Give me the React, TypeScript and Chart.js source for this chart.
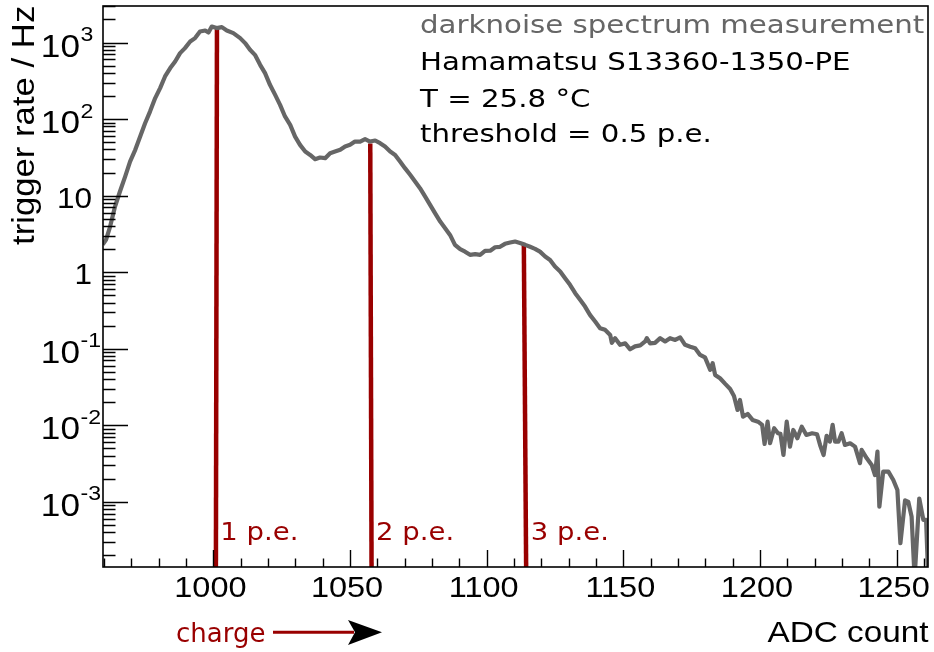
import React, { useEffect, useRef } from "react";
import { Chart, registerables } from "chart.js";

Chart.register(...registerables);

// ---- data ----
const adcCounts = [
  959.5, 960.7, 962.2, 964.0, 965.8, 967.7, 969.5, 971.4, 973.2, 975.0, 976.8, 978.7, 980.5, 982.3, 984.2, 986.0,
  987.8, 989.6, 991.5, 993.3, 995.1, 997.0, 998.2, 999.4, 1001.2, 1003.1, 1004.9, 1007.3, 1009.8, 1011.6, 1013.4,
  1015.2, 1017.1, 1018.9, 1020.7, 1022.6, 1024.4, 1026.2, 1028.1, 1029.9, 1031.7, 1033.6, 1035.4, 1037.2, 1039.0,
  1040.9, 1042.7, 1044.5, 1046.4, 1048.2, 1050.0, 1051.8, 1053.7, 1055.5, 1057.3, 1059.2, 1061.0, 1062.8, 1064.7,
  1066.5, 1068.3, 1070.1, 1072.0, 1073.8, 1075.6, 1077.5, 1079.3, 1081.1, 1083.0, 1084.8, 1086.6, 1088.4, 1090.3,
  1092.1, 1093.9, 1095.8, 1097.6, 1099.4, 1101.3, 1103.1, 1104.9, 1106.7, 1108.6, 1110.4, 1112.2, 1114.1, 1115.9,
  1117.7, 1119.5, 1121.4, 1123.2, 1125.0, 1126.9, 1128.7, 1130.5, 1132.4, 1134.2, 1136.0, 1137.8, 1139.7, 1141.5,
  1143.3, 1145.2, 1145.8, 1147.0, 1148.8, 1150.7, 1152.5, 1154.3, 1156.2, 1158.0, 1158.6, 1159.8, 1161.6, 1163.5,
  1165.3, 1167.1, 1169.0, 1170.8, 1172.6, 1174.5, 1176.3, 1178.1, 1179.9, 1181.8, 1182.7, 1183.6, 1185.4, 1187.3,
  1189.1, 1190.5, 1191.8, 1192.7, 1193.8, 1195.5, 1197.3, 1199.3, 1200.8, 1201.7, 1202.8, 1203.7, 1205.2, 1206.6,
  1207.5, 1208.6, 1209.8, 1211.0, 1212.2, 1213.7, 1215.3, 1217.0, 1219.1, 1220.9, 1222.0, 1223.3, 1224.4, 1225.6,
  1226.6, 1227.5, 1228.7, 1229.9, 1231.1, 1233.0, 1234.8, 1236.6, 1237.2, 1239.1, 1240.9, 1242.1, 1243.0, 1243.7,
  1245.1, 1247.0, 1248.8, 1250.3, 1251.4, 1253.1, 1254.3, 1255.5, 1256.6, 1258.3, 1259.8, 1260.8, 1261.6,
];

const triggerRates = [
  2.3, 2.64, 3.93, 7.18, 11.3, 17.7, 27.8, 39.6, 59, 88, 125, 188, 254, 360, 463, 565,
  727, 845, 1030, 1142, 1393, 1435, 1351, 1618, 1542, 1589, 1435, 1327, 1142, 982, 803,
  690, 511, 398, 280, 207, 153, 108, 84, 59, 46, 37.6, 34.0, 29.9, 31.4,
  30.8, 35.8, 37.6, 39.6, 43.8, 46, 50.8, 50.8, 54.6, 50.8, 52.4, 48.4, 43.8, 37.6,
  34.0, 27.8, 22.8, 18.7, 15.3, 12.5, 9.71, 7.56, 5.89, 4.57, 3.75, 3.06, 2.27, 1.99,
  1.85, 1.68, 1.72, 1.68, 1.89, 1.9, 2.11, 2.14, 2.34, 2.43, 2.51, 2.4, 2.27, 2.14,
  2.01, 1.85, 1.6, 1.44, 1.18, 1.02, 0.832, 0.681, 0.53, 0.434, 0.354, 0.276, 0.226, 0.185,
  0.176, 0.151, 0.119, 0.137, 0.112, 0.117, 0.098, 0.107, 0.11, 0.124, 0.137, 0.117, 0.119, 0.137,
  0.124, 0.137, 0.13, 0.14, 0.112, 0.106, 0.101, 0.0828, 0.0768, 0.0527, 0.0644, 0.0453, 0.041, 0.0346,
  0.0297, 0.0241, 0.0158, 0.0213, 0.0129, 0.014, 0.0117, 0.0111, 0.0101, 0.00568, 0.0111, 0.0058, 0.0091, 0.00783,
  0.0077, 0.00407, 0.0111, 0.00524, 0.00865, 0.00675, 0.00955, 0.00745, 0.00783, 0.0076, 0.00551, 0.00407, 0.00723, 0.00608,
  0.0101, 0.00608, 0.00608, 0.00783, 0.00551, 0.0058, 0.00524, 0.00318, 0.00474, 0.00369, 0.00302, 0.00223, 0.00451, 0.00086,
  0.00247, 0.00247, 0.00192, 0.00142, 0.000286, 0.00104, 0.00099, 0.000637, 0.0001, 0.0011, 0.000577, 0.000577, 0.0001,
];

const peLabels = ["1 p.e.", "2 p.e.", "3 p.e."];
const peTopAdc = [1001.3, 1057.4, 1113.6];
const peBottomAdc = [1000.9, 1057.9, 1114.5];
const peTopRate = [1500, 48, 2.3];

const xMajorTicks = [1000, 1050, 1100, 1150, 1200, 1250];
const xTickLabels = ["1000", "1050", "1100", "1150", "1200", "1250"];
const yDecadeValues = [1e-3, 1e-2, 1e-1, 1, 10, 100, 1000];
const yTickBase = ["10", "10", "10", "1", "10", "10", "10"];
const yTickExponent = ["-3", "-2", "-1", "", "", "2", "3"];

const annotationLines = [
  "darknoise spectrum measurement",
  "Hamamatsu S13360-1350-PE",
  "T = 25.8 °C",
  "threshold = 0.5 p.e.",
];
const xAxisTitle = "ADC count";
const yAxisTitle = "trigger rate / Hz";
const chargeLabel = "charge";

const X_MIN = 959.6;
const X_MAX = 1261.5;
const Y_MIN = 1.4e-4;
const Y_MAX = 3000;

// ---- styles ----
const RED = "#990000";
const GRAY = "#666666";
const SANS = '"Liberation Sans", Arial, Helvetica, sans-serif';
const DEJAVU = '"DejaVu Sans", Verdana, sans-serif';

function drawText(
  ctx: CanvasRenderingContext2D,
  text: string,
  x: number,
  y: number,
  font: string,
  color: string,
  align: CanvasTextAlign,
  sx: number
) {
  ctx.save();
  ctx.font = font;
  ctx.fillStyle = color;
  ctx.textAlign = align;
  ctx.textBaseline = "alphabetic";
  ctx.translate(x, y);
  ctx.scale(sx, 1);
  ctx.fillText(text, 0, 0);
  ctx.restore();
}

const decorPlugin = {
  id: "rootStyleDecor",
  afterDraw(chart: any) {
    const ctx: CanvasRenderingContext2D = chart.ctx;
    const area = chart.chartArea;
    const xs = chart.scales.x;
    const ys = chart.scales.y;
    ctx.save();

    // frame
    ctx.strokeStyle = "#000";
    ctx.lineWidth = 1.6;
    ctx.strokeRect(area.left, area.top, area.right - area.left, area.bottom - area.top);

    // y ticks (inside, left)
    ctx.lineWidth = 1.4;
    ctx.beginPath();
    for (let d = -4; d <= 3; d++) {
      for (let m = 1; m <= 9; m++) {
        const v = m * Math.pow(10, d);
        if (v < Y_MIN || v > Y_MAX * 1.0001) continue;
        const py = Math.round(ys.getPixelForValue(v)) + 0.5;
        const len = m === 1 ? 25 : 12.5;
        ctx.moveTo(area.left, py);
        ctx.lineTo(area.left + len, py);
      }
    }
    // x ticks (inside, bottom)
    for (let v = 960; v <= 1260; v += 10) {
      const px = Math.round(xs.getPixelForValue(v)) + 0.5;
      if (px < area.left || px > area.right) continue;
      const len = v % 50 === 0 ? 17 : 8.5;
      ctx.moveTo(px, area.bottom);
      ctx.lineTo(px, area.bottom - len);
    }
    ctx.stroke();

    // y tick labels
    yDecadeValues.forEach((v, i) => {
      const py = ys.getPixelForValue(v);
      if (yTickExponent[i]) {
        drawText(ctx, yTickBase[i], 80, py + 14, `32px ${SANS}`, "#000", "right", 1.1);
        drawText(ctx, yTickExponent[i], 80.5, py - 1.5, `21px ${SANS}`, "#000", "left", 1.1);
      } else {
        drawText(ctx, yTickBase[i], 92, py + 12, `30px ${SANS}`, "#000", "right", 1.05);
      }
    });

    // x tick labels
    xMajorTicks.forEach((v, i) => {
      const px = xs.getPixelForValue(v);
      drawText(ctx, xTickLabels[i], px - 3, 597, `29px ${SANS}`, "#000", "center", 1.12);
    });

    // axis titles
    drawText(ctx, xAxisTitle, 928.5, 642, `30px ${SANS}`, "#000", "right", 1.11);
    ctx.save();
    ctx.translate(34, 245);
    ctx.rotate(-Math.PI / 2);
    drawText(ctx, yAxisTitle, 0, 0, `31px ${SANS}`, "#000", "left", 1.12);
    ctx.restore();

    // annotation block
    const baselines = [33.3, 70, 106.7, 141.7];
    annotationLines.forEach((t, i) => {
      drawText(ctx, t, 420, baselines[i], `25px ${DEJAVU}`, i === 0 ? GRAY : "#000", "left", 1.17);
    });

    // p.e. labels
    peLabels.forEach((t, i) => {
      const px = xs.getPixelForValue(peBottomAdc[i]);
      drawText(ctx, t, px + 4.5, 540, `25px ${DEJAVU}`, RED, "left", 1.1);
    });

    // charge arrow
    drawText(ctx, chargeLabel, 176, 641.7, `26px ${DEJAVU}`, RED, "left", 1.0);
    ctx.strokeStyle = RED;
    ctx.lineWidth = 3;
    ctx.beginPath();
    ctx.moveTo(273, 632.3);
    ctx.lineTo(354, 632.3);
    ctx.stroke();
    ctx.fillStyle = "#000";
    ctx.beginPath();
    ctx.moveTo(348, 620);
    ctx.lineTo(382, 632.3);
    ctx.lineTo(348, 645);
    ctx.lineTo(355, 632.3);
    ctx.closePath();
    ctx.fill();

    ctx.restore();
  },
};

export default function App() {
  const canvasRef = useRef<HTMLCanvasElement | null>(null);

  useEffect(() => {
    document.body.style.margin = "0";
    const canvas = canvasRef.current;
    if (!canvas) return;

    const spectrum = adcCounts.map((x, i) => ({ x, y: triggerRates[i] }));
    const peDatasets = peLabels.map((label, i) => ({
      label,
      data: [
        { x: peBottomAdc[i], y: Y_MIN * 0.5 },
        { x: peTopAdc[i], y: peTopRate[i] },
      ],
      showLine: true,
      borderColor: RED,
      borderWidth: 4.5,
      pointRadius: 0,
      tension: 0,
      clip: 0,
    }));

    const chart = new Chart(canvas, {
      type: "scatter",
      data: {
        datasets: [
          {
            label: "spectrum",
            data: spectrum,
            showLine: true,
            borderColor: GRAY,
            borderWidth: 4.2,
            pointRadius: 0,
            tension: 0,
            clip: 0,
            borderJoinStyle: "round",
          } as any,
          ...(peDatasets as any[]),
        ],
      },
      options: {
        animation: false,
        responsive: false,
        devicePixelRatio: 1,
        events: [],
        layout: { padding: { left: 103, right: 6, top: 6, bottom: 85 } },
        plugins: { legend: { display: false }, tooltip: { enabled: false } },
        scales: {
          x: { type: "linear", display: false, min: X_MIN, max: X_MAX },
          y: { type: "logarithmic", display: false, min: Y_MIN, max: Y_MAX },
        },
      },
      plugins: [decorPlugin],
    });

    return () => chart.destroy();
  }, []);

  return (
    <div style={{ position: "fixed", left: 0, top: 0, width: 934, height: 652, background: "#fff" }}>
      <canvas ref={canvasRef} width={934} height={652} style={{ display: "block" }} />
    </div>
  );
}
